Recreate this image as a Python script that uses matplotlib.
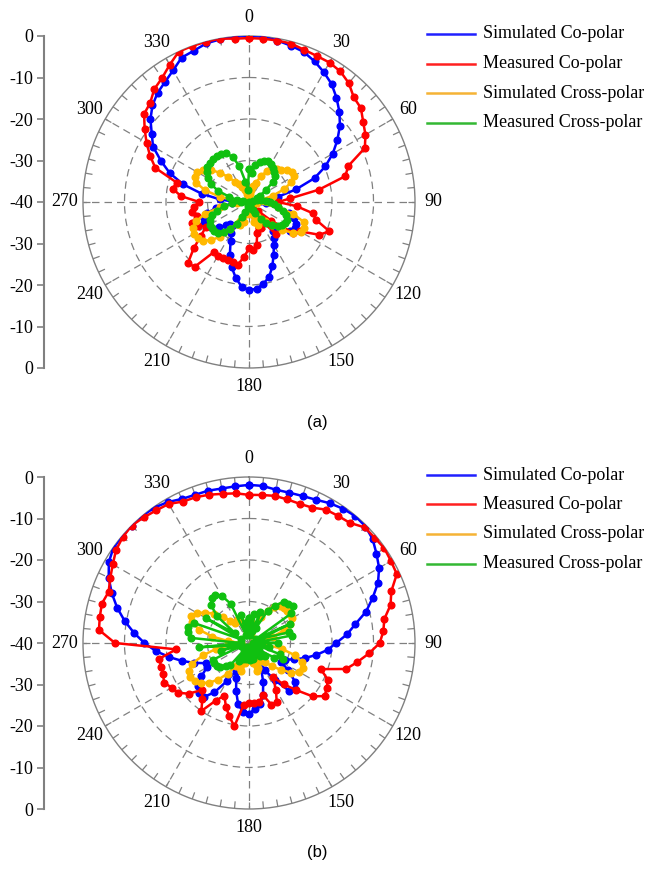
import numpy as np
import matplotlib
matplotlib.use('Agg')
import matplotlib.pyplot as plt
from matplotlib.lines import Line2D

# angulos cada 5 grados
angles = np.arange(0, 360, 5)

# (a) patrones en dB, de 0 a 355 grados
a_sim_co = [0, 0, -0.5, -1.0, -1.5, -2.6, -3.9, -5.3, -7.2, -9.2, -11.4, -14.0,
            -16.7, -19.7, -23.2, -28.3, -33, -37, -38.5, -36, -33, -30, -28.5, -27.5,
            -27.3, -28, -30, -31.5, -31, -29.5, -28, -26, -23.5, -21.3, -20, -19,
            -18.8, -19.5, -21.5, -23.8, -26.5, -29.5, -31.5, -33, -33, -32, -30.5, -29,
            -28.2, -28, -28.5, -29.5, -32, -36, -37, -33, -28.4, -23.6, -19.7, -16.6,
            -13.3, -11.4, -9, -7.1, -5.7, -4.7, -3.4, -1.6, -1.2, -0.4, -0.2, 0]
a_meas_co = [-0.5, -0.5, -0.5, -0.5, -1, -1.2, -1.2, -1.6, -2.6, -4.3, -4.8, -6.4,
             -7.6, -9.2, -14.5, -16, -22.9, -30, -33, -28.5, -24.4, -23.2, -19.4, -21.3,
             -25.9, -27, -33, -37, -30, -34, -38, -33, -36, -32.3, -29.5, -28.3,
             -28.8, -26.8, -24.7, -25.1, -25, -25, -24.9, -25.3, -19.6, -19.2, -22.6, -25.9,
             -28, -26.5, -25.4, -27, -26, -26.6, -28, -23.5, -21.3, -22, -16, -13.7,
             -11.5, -9.3, -7, -6.3, -4.5, -3.5, -1.8, 0, 0, 0, 0, -0.5]
a_sim_cross = [-40, -38, -37, -36, -35, -33, -31.5, -30, -29.5, -29, -28, -27.3,
               -27.5, -28.8, -31, -34, -37, -39, -40, -38, -33, -29, -26, -25.3,
               -25.5, -27, -29.5, -32, -34, -35, -36, -35, -34, -35, -37, -39,
               -40, -39, -37, -35, -34, -35, -34, -32, -29, -27, -25.5, -25,
               -24.8, -25, -26.5, -29, -33, -37, -40, -37, -33, -29, -26.5, -25.6,
               -25.6, -26.5, -28, -30, -32, -34, -35, -36, -37, -38, -39, -40]
a_meas_cross = [-32, -33, -31, -30, -29.5, -29, -29.3, -30, -30.5, -31, -32.5, -35,
                -37, -38, -39, -38, -37, -36, -35, -34, -33, -31.5, -30.5, -30,
                -30, -30.2, -31, -32, -33.5, -35, -37, -38, -39, -39.5, -40, -39,
                -38.5, -39, -39.5, -39, -37.5, -36, -34, -32, -30.5, -29.5, -29, -29,
                -29.1, -29.5, -30.5, -32, -34, -36, -38, -38.5, -37, -35, -32, -30,
                -28.5, -27.5, -26.8, -26.6, -26.5, -26.5, -26.6, -27, -28.5, -31, -35, -37]

# (b) patrones en dB
b_sim_co = [-1.9, -2, -2.5, -2.5, -2.3, -1.9, -1.1, -0.5, -0.1, -0.3, -1.1, -2.5,
            -3.8, -5.7, -8.3, -10.8, -14, -16.3, -19, -21, -23.5, -26, -28.5, -30.5,
            -31, -28.5, -25.5, -24.2, -25, -29, -32.5, -33, -30, -27, -25, -24,
            -23, -23.4, -25, -28, -31, -32.5, -29.5, -25.5, -23, -22.8, -24, -26,
            -28.3, -28.5, -26, -23.3, -20.5, -17.5, -14.8, -12.2, -9.6, -7.1, -4.8, -2.7,
            -1, -0.1, 0, 0, 0, -0.2, -0.8, -1.7, -2, -2, -2.2, -2.1]
b_meas_co = [-4.3, -4.2, -4, -4.2, -4.3, -4, -2.9, -2.6, -2.2, -0.6, -0.5, -0.2,
             -0.5, -0.7, -3.5, -4.7, -6.9, -7.5, -8.5, -11, -13.5, -15.8, -21.6, -19,
             -18.4, -17.7, -20, -24, -27, -30, -27, -24.2, -24.2, -27, -25.5, -25.5,
             -25.6, -25, -19.6, -21.7, -23.7, -26, -24, -20, -22.5, -24, -21, -19.1,
             -18.5, -17.4, -18, -18.1, -18, -22.4, -7.7, -3.7, -3.5, -3.3, -4, -3.1,
             -2.1, -0.9, -0.3, 0, -0.5, -1, -1.3, -2.4, -2.6, -3, -3.5, -3.8]
b_sim_cross = [-36, -35, -36, -38, -36, -33, -31, -29.5, -28.5, -28, -28.1, -28,
               -28, -29, -31, -34, -36, -38, -39, -36, -32, -28.5, -26.5, -25.7,
               -26, -27.5, -30, -32, -34, -35, -36, -35, -33.5, -33, -35, -37,
               -38, -37, -35, -33, -33.5, -35, -33.5, -31, -28.5, -26.5, -25, -24,
               -23.6, -24, -25.5, -28.5, -32, -36, -38, -35, -31, -27.5, -25.5, -24.6,
               -25.5, -27.2, -29, -31, -33, -34, -34, -33.5, -34, -35.5, -37, -37]
b_meas_cross = [-34, -38, -33, -37, -32, -36, -31, -29, -27, -26.6, -26.2, -27.5,
                -38, -29, -37, -30, -29.6, -38, -33, -39, -35, -38, -32, -31,
                -33, -37, -35, -39, -36, -38, -37, -39, -37, -36, -38, -36,
                -37, -39, -36, -38, -36, -39, -35, -38, -33, -32, -31, -30.5,
                -30.3, -30.3, -38, -33, -37, -28, -38, -26, -25, -24.7, -26, -38,
                -28, -36, -30, -27, -26, -25.8, -26.8, -29.6, -38, -33, -38, -35]

labels = ['Simulated Co-polar', 'Measured Co-polar', 'Simulated Cross-polar', 'Measured Cross-polar']
colors = ['#0000ff', '#ff0000', '#ffb800', '#10c010']
legend_colors = ['#2020ff', '#ff2020', '#f5b335', '#33b833']
scale_labels = ['0', '-10', '-20', '-30', '-40', '-30', '-20', '-10', '0']

W, H = 648, 874
serif = ['Liberation Serif', 'DejaVu Serif']

fig = plt.figure(figsize=(W / 100, H / 100), dpi=100)


def polar_panel(cy, series):
    R = 166
    ax = fig.add_axes([(249 - R) / W, 1 - (cy + R) / H, 2 * R / W, 2 * R / H], projection='polar')
    ax.set_theta_zero_location('N')
    ax.set_theta_direction(-1)
    th = np.deg2rad(np.append(angles, angles[0]))
    for vals, c in zip(series, colors):
        v = np.append(vals, vals[0])
        ax.plot(th, v, color=c, lw=1.8, marker='o', ms=4.8, zorder=3)
    ax.set_ylim(-40, 0)
    ax.set_yticks([-30, -20, -10])
    ax.set_yticklabels([])
    ax.set_xticks(np.deg2rad(np.arange(0, 360, 30)))
    ax.set_xticklabels([str(a) for a in range(0, 360, 30)], fontsize=13, family=serif)
    ax.tick_params(axis='x', length=0, pad=6)
    ax.grid(True, color='#808080', linestyle=(0, (6, 4)), lw=0.9)
    ax.spines['polar'].set_color('#808080')
    ax.spines['polar'].set_linewidth(1.0)
    # marcas hacia dentro en el circulo exterior, cada 5 grados
    ax.vlines(np.deg2rad(np.arange(0, 360, 5)), -1.7, 0, color='#808080', lw=0.9, zorder=2)
    ax.set_ylim(-40, 0)

    # escala vertical de la izquierda
    sax = fig.add_axes([44 / W, 1 - (cy + R) / H, 0.001, 2 * R / H])
    sax.set_ylim(8, 0)
    sax.set_yticks(range(9))
    sax.set_yticklabels(scale_labels, fontsize=13, family=serif)
    sax.set_xticks([])
    for s in ['top', 'right', 'bottom']:
        sax.spines[s].set_visible(False)
    sax.spines['left'].set_color('#808080')
    sax.spines['left'].set_linewidth(1.5)
    sax.tick_params(axis='y', length=5, color='#808080', width=1.2, pad=3)
    sax.patch.set_alpha(0)

    # leyenda
    ly0 = cy - 168
    for i, (lab, c) in enumerate(zip(labels, legend_colors)):
        y = 1 - (ly0 + i * 29.5) / H
        fig.add_artist(Line2D([427 / W, 475 / W], [y, y], color=c, lw=1.8, transform=fig.transFigure))
        fig.text(483 / W, y, lab, fontsize=13, family=serif, va='center', ha='left')
    return ax


polar_panel(202, [a_sim_co, a_meas_co, a_sim_cross, a_meas_cross])
polar_panel(643, [b_sim_co, b_meas_co, b_sim_cross, b_meas_cross])

fig.text(317 / W, 1 - 422 / H, '(a)', fontsize=12, family=['Liberation Sans', 'DejaVu Sans'], ha='center', va='center')
fig.text(317 / W, 1 - 852 / H, '(b)', fontsize=12, family=['Liberation Sans', 'DejaVu Sans'], ha='center', va='center')

fig.savefig('out.png', dpi=100)
